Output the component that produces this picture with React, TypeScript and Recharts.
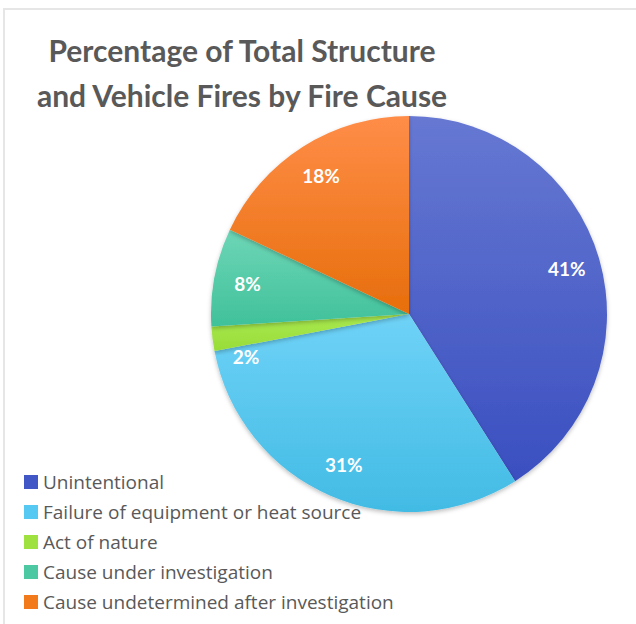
import React from 'react';
import { Cell, Pie, PieChart } from 'recharts';

const causes = [
  'Unintentional',
  'Failure of equipment or heat source',
  'Act of nature',
  'Cause under investigation',
  'Cause undetermined after investigation',
];
const shares = [41, 31, 2, 8, 18];
const legendColors = ['#4257c6', '#55c9f2', '#9fe23f', '#4cc8a2', '#f27a1a'];
const gradTop = ['#6678d2', '#6fd2f7', '#aaea50', '#6ed6b6', '#ff8d48'];
const gradBottom = ['#3a4fc0', '#42bbe4', '#98dc38', '#40c19a', '#e76e0c'];

const data = causes.map((name, i) => ({ name, value: shares[i] }));

const RADIAN = Math.PI / 180;

const renderLabel = (props: any) => {
  const { cx, cy, midAngle, outerRadius, value, percent } = props;
  const r = outerRadius * 0.83;
  const x = cx + r * Math.cos(-midAngle * RADIAN);
  // tiny slices: push the label just below the wedge, like Excel does
  const y = cy + r * Math.sin(-midAngle * RADIAN) + (percent < 0.05 ? 22 : 0);
  return (
    <text
      x={x}
      y={y}
      fill="#fff"
      textAnchor="middle"
      dominantBaseline="central"
      style={{ fontFamily: 'Lato', fontWeight: 700, fontSize: 19 }}
    >
      {`${value}%`}
    </text>
  );
};

export default function App() {
  return (
    <div style={{ position: 'absolute', left: 0, top: 0, width: 636, height: 624, background: '#fff' }}>
      <div
        style={{
          position: 'absolute',
          left: 3,
          top: 8,
          width: 633,
          height: 616,
          borderLeft: '2px solid #e6e6e6',
          borderTop: '2px solid #e6e6e6',
        }}
      />
      <div style={{ position: 'absolute', left: 0, top: 0 }}>
        <PieChart width={636} height={624} margin={{ top: 0, right: 0, bottom: 0, left: 0 }}>
          <defs>
            {gradTop.map((c, i) => (
              <linearGradient key={i} id={`g${i}`} x1="0" y1="0" x2="0" y2="1">
                <stop offset="0%" stopColor={c} />
                <stop offset="100%" stopColor={gradBottom[i]} />
              </linearGradient>
            ))}
            <filter id="shadow" x="-10%" y="-10%" width="120%" height="120%">
              <feDropShadow dx="0" dy="2" stdDeviation="2" floodColor="#000" floodOpacity="0.25" />
            </filter>
          </defs>
          <Pie
            data={data}
            dataKey="value"
            nameKey="name"
            cx={409}
            cy={314}
            outerRadius={198}
            startAngle={90}
            endAngle={-270}
            stroke="none"
            label={renderLabel}
            labelLine={false}
            isAnimationActive={false}
            style={{ filter: 'url(#shadow)' }}
          >
            {data.map((d, i) => (
              <Cell key={d.name} fill={`url(#g${i})`} />
            ))}
          </Pie>
        </PieChart>
      </div>
      <div
        style={{
          position: 'absolute',
          left: 24,
          top: 467,
          fontFamily: 'Open Sans',
          fontSize: 19,
          color: '#595959',
        }}
      >
        {causes.map((c, i) => (
          <div key={c} style={{ display: 'flex', alignItems: 'center', height: 30, whiteSpace: 'nowrap' }}>
            <span
              style={{ width: 14, height: 14, background: legendColors[i], marginRight: 5, display: 'inline-block' }}
            />
            <span>{c}</span>
          </div>
        ))}
      </div>
      <div
        style={{
          position: 'absolute',
          left: 0,
          top: 28,
          width: 484,
          textAlign: 'center',
          fontFamily: 'Lato',
          fontWeight: 700,
          fontSize: 30,
          lineHeight: '45px',
          color: '#595959',
        }}
      >
        Percentage of Total Structure
        <br />
        and Vehicle Fires by Fire Cause
      </div>
    </div>
  );
}
